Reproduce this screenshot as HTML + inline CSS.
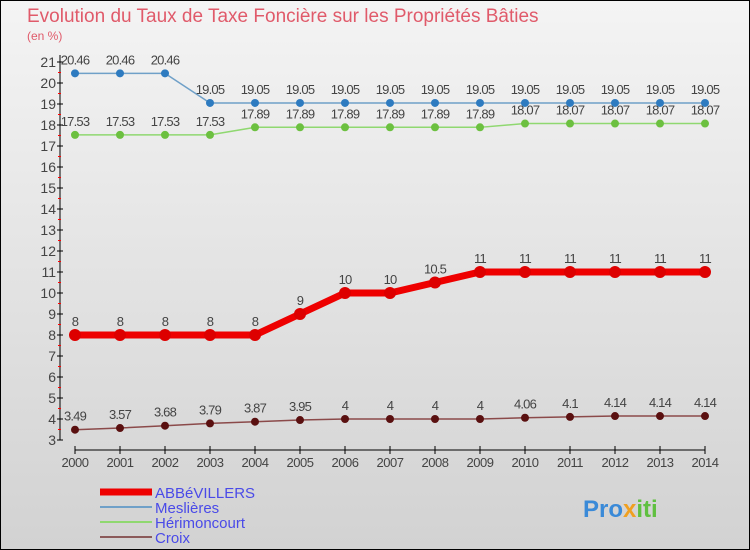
<!DOCTYPE html>
<html><head><meta charset="utf-8"><style>
body{margin:0;width:750px;height:550px;overflow:hidden;font-family:"Liberation Sans",sans-serif}
svg{display:block}
</style></head><body>
<svg width="750" height="550" id="c">
<defs><linearGradient id="bg" x1="0" y1="0" x2="0" y2="1"><stop offset="0" stop-color="#f4f4f4"/><stop offset="1" stop-color="#d2d2d2"/></linearGradient></defs>
<rect x="0.5" y="0.5" width="749" height="549" fill="url(#bg)" stroke="#000"/>
<text x="27" y="22" font-size="19" fill="#e05a6a">Evolution du Taux de Taxe Foncière sur les Propriétés Bâties</text>
<text x="27" y="40" font-size="12" fill="#e05a6a">(en %)</text>
<g id="axes"></g><g id="series"></g>
<g>
<line x1="100" y1="492" x2="152" y2="492" stroke="#ee0000" stroke-width="7"/>
<text x="155" y="498" font-size="15" fill="#4a4ae8">ABBéVILLERS</text>
<line x1="100" y1="507" x2="152" y2="507" stroke="#6fa0c8" stroke-width="2"/>
<text x="155" y="513" font-size="15" fill="#4a4ae8">Meslières</text>
<line x1="100" y1="522" x2="152" y2="522" stroke="#8fd870" stroke-width="2"/>
<text x="155" y="528" font-size="15" fill="#4a4ae8">Hérimoncourt</text>
<line x1="100" y1="537" x2="152" y2="537" stroke="#8b5a5a" stroke-width="2"/>
<text x="155" y="543" font-size="15" fill="#4a4ae8">Croix</text>
</g>
<text x="583" y="517" font-size="24" font-weight="bold" fill="#3a8ad8">Pro<tspan fill="#f0a020">x</tspan><tspan fill="#60c040">iti</tspan></text>
</svg>
<script>
const years=[2000,2001,2002,2003,2004,2005,2006,2007,2008,2009,2010,2011,2012,2013,2014];
const abbevillers=[8,8,8,8,8,9,10,10,10.5,11,11,11,11,11,11];
const meslieres=[20.46,20.46,20.46,19.05,19.05,19.05,19.05,19.05,19.05,19.05,19.05,19.05,19.05,19.05,19.05];
const herimoncourt=[17.53,17.53,17.53,17.53,17.89,17.89,17.89,17.89,17.89,17.89,18.07,18.07,18.07,18.07,18.07];
const croix=[3.49,3.57,3.68,3.79,3.87,3.95,4,4,4,4,4.06,4.1,4.14,4.14,4.14];
const yTicks=[3,4,5,6,7,8,9,10,11,12,13,14,15,16,17,18,19,20,21];
const NS="http://www.w3.org/2000/svg";
const xs=i=>75+i*45, ys=v=>440-(v-3)*21;
function mk(p,t,a){const e=document.createElementNS(NS,t);for(const k in a)e.setAttribute(k,a[k]);p.appendChild(e);return e;}
const ax=document.getElementById('axes');
let l=mk(ax,'line',{x1:60,y1:55,x2:60,y2:440,stroke:'#000'});


yTicks.forEach(v=>{
 mk(ax,'line',{x1:57,y1:ys(v),x2:63,y2:ys(v),stroke:'#000'});
 if(v<21) mk(ax,'line',{x1:58,y1:ys(v)-10.5,x2:61,y2:ys(v)-10.5,stroke:'#f00'});
 const t=mk(ax,'text',{x:56,y:ys(v)+5,'font-size':14,'text-anchor':'end',fill:'#444'});
 t.textContent=v;
 
 
});
l=mk(ax,'line',{x1:75,y1:450,x2:705,y2:450,stroke:'#000'});


years.forEach((y,i)=>{
 mk(ax,'line',{x1:xs(i),y1:446,x2:xs(i),y2:454,stroke:'#000'});
 const t=mk(ax,'text',{x:xs(i),y:467,'font-size':13,'text-anchor':'middle',fill:'#444','letter-spacing':'-0.5'});
 t.textContent=y;
 
 
});
const sg=document.getElementById('series');
function series(name,data,col,dot,w,r){
 const g=mk(sg,'g',{});
 
 
 const p=mk(g,'polyline',{points:data.map((v,i)=>xs(i)+','+ys(v)).join(' '),fill:'none',stroke:col,'stroke-width':w});
 
 
 data.forEach((v,i)=>{
  const c=mk(g,'circle',{cx:xs(i),cy:ys(v),r:r,fill:dot});
  
  
  const t=mk(g,'text',{x:xs(i),y:ys(v)-9,'font-size':13,'text-anchor':'middle',fill:'#444','letter-spacing':'-0.8'});
  t.textContent=v;
  
  
 });
}
series('meslieres',meslieres,'#6fa0c8','#2e7bc0',1.5,4);
series('herimoncourt',herimoncourt,'#8fd870','#6cc040',1.5,4);
series('croix',croix,'#8b4a4a','#5a1010',1.5,4);
series('abbevillers',abbevillers,'#ee0000','#dd0000',7,6);
</script>
</body></html>
